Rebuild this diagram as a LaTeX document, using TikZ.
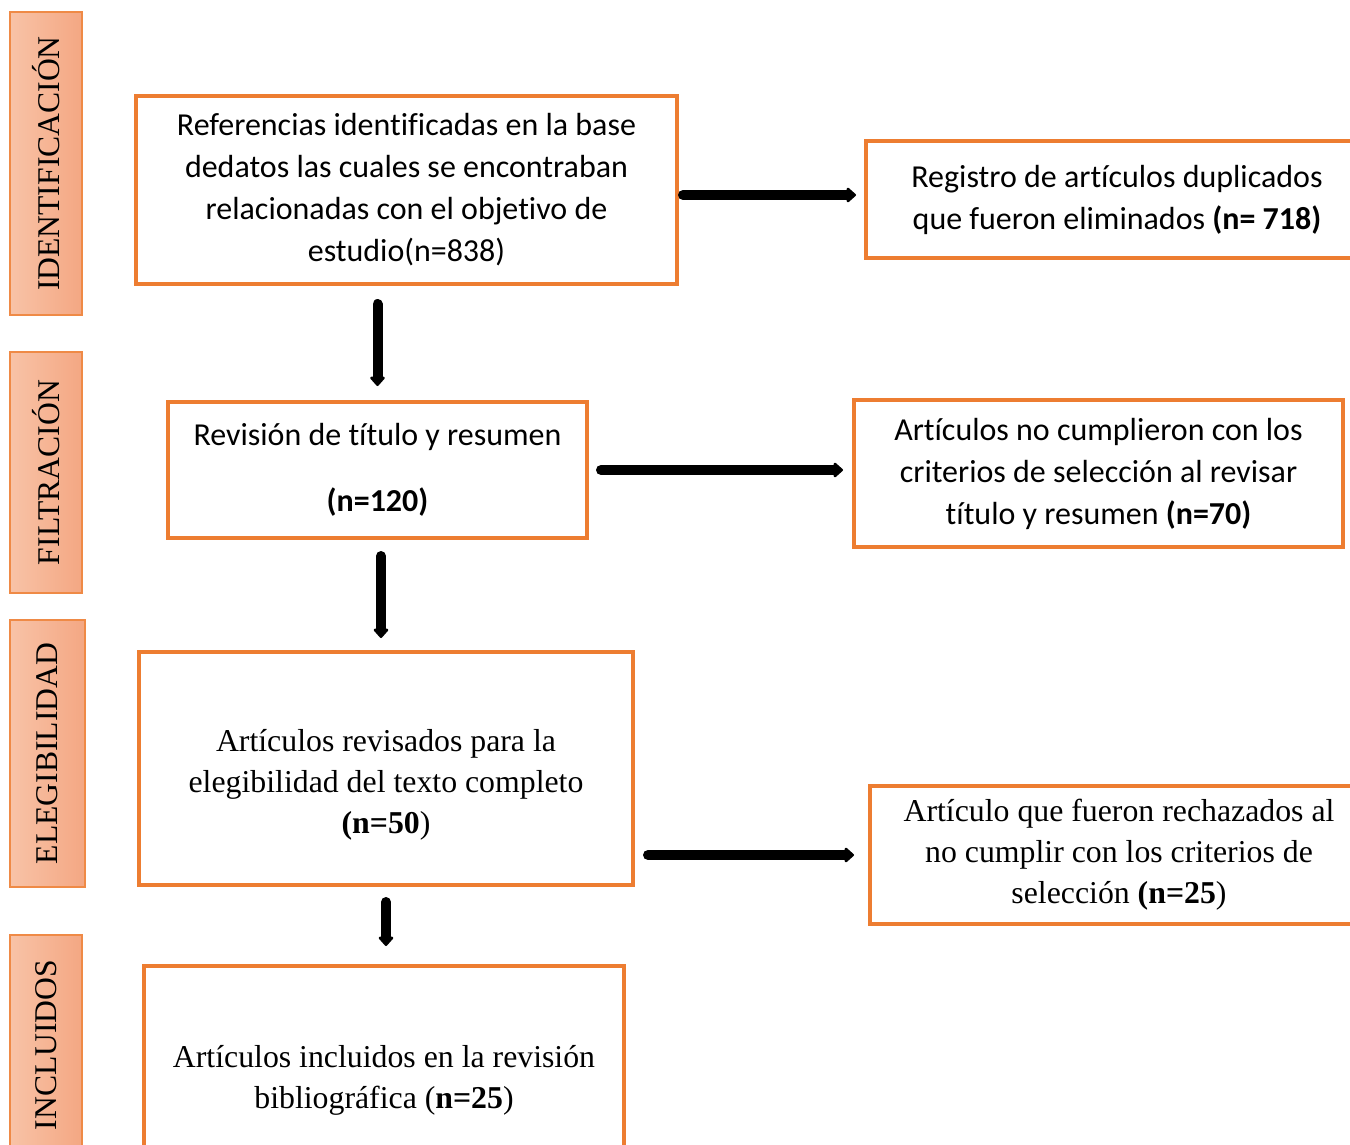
\documentclass[tikz,border=0pt]{standalone}
\usepackage{fontspec}
\setmainfont{Liberation Serif}
\newfontfamily\calibri[Ligatures=NoCommon]{Carlito}
\usetikzlibrary{arrows.meta,positioning}
\definecolor{boxorange}{HTML}{ED7D31}
\definecolor{tagleft}{HTML}{F8C3A7}
\definecolor{tagright}{HTML}{F4A783}
\newcommand{\px}{0.02cm}

\begin{document}
\begin{tikzpicture}[x=\px,y=-\px,
    stagebox/.style={draw=boxorange,line width=4*\px,inner sep=0pt,align=center},
    tag/.style={draw=boxorange!90,line width=1.5*\px,inner sep=0pt,
      left color=tagleft,right color=tagright,font=\fontsize{18}{20}\selectfont},
    sanstxt/.style={font=\calibri\fontsize{18.2}{23.9}\selectfont},
    seriftxt/.style={font=\fontsize{18.1}{23.3}\selectfont},
    flow/.style={line width=10*\px,line cap=round,-{Triangle[length=0.2cm,width=0.34cm,round]}}]
      \useasboundingbox (0,0) rectangle (1350,1144);
      \clip (0,0) rectangle (1350,1144);

      \node[tag,minimum height=303*\px,minimum width=72*\px] (ident) at (46,163.5) {\rotatebox{90}{IDENTIFICACIÓN}};
      \node[tag,minimum height=241*\px,minimum width=72*\px] (filtr) at (46,472.5) {\rotatebox{90}{FILTRACIÓN}};
      \node[tag,minimum height=267*\px,minimum width=75*\px] (elegi) at (47.5,753.5) {\rotatebox{90}{ELEGIBILIDAD}};
      \node[tag,minimum height=220*\px,minimum width=72*\px] (inclu) at (46,1045) {\rotatebox{90}{INCLUIDOS}};

      \node[stagebox,sanstxt,minimum width=541*\px,minimum height=188*\px] (b1) at (406.5,190)
        {Referencias identificadas en la base\\ dedatos las cuales se encontraban\\
         relacionadas con el objetivo de\\ estudio(n=838)};
      \node[stagebox,sanstxt,minimum width=502*\px,minimum height=117*\px] (r1) at (1117,199.5)
        {Registro de artículos duplicados\\ que fueron eliminados \textbf{(n= 718)}};
      \node[stagebox,sanstxt,minimum width=419*\px,minimum height=136*\px] (b2) at (377.5,470)
        {Revisión de título y resumen\\[0.48cm] \textbf{(n=120)}};
      \node[stagebox,sanstxt,minimum width=489*\px,minimum height=147*\px] (r2) at (1098.5,473.5)
        {Artículos no cumplieron con los\\ criterios de selección al revisar\\ título y resumen \textbf{(n=70)}};
      \node[stagebox,minimum width=494*\px,minimum height=233*\px] (b3) at (386,768.5) {};
      \node[seriftxt,align=center] (b3txt) at (386,785)
        {Artículos revisados para la\\ elegibilidad del texto completo\\ \textbf{(n=50})};
      \node[stagebox,seriftxt,minimum width=498*\px,minimum height=138*\px] (r3) at (1119,855)
        {Artículo que fueron rechazados al\\ no cumplir con los criterios de\\ selección \textbf{(n=25})};
      \node[stagebox,seriftxt,minimum width=480*\px,minimum height=228*\px] (b4) at (384,1080)
        {Artículos incluidos en la revisión\\ bibliográfica (\textbf{n=25})};

      \path[flow]
      ([yshift=-5*\px]b1.east) edge[shorten <=4*\px,shorten >=8*\px] ([yshift=-5*\px]b1.east -| r1.west)
      (b1.south -| b2.north) edge[shorten <=18*\px,shorten >=14*\px] (b2.north)
      (b2.east) edge[shorten <=12*\px,shorten >=9*\px] (b2.east -| r2.west)
      ([xshift=3.5*\px]b2.south) edge[shorten <=16*\px,shorten >=12*\px] ([xshift=3.5*\px]b2.south |- b3.north)
      (b3.east |- r3.west) edge[shorten <=13*\px,shorten >=14*\px] (r3.west)
      (b3.south) edge[shorten <=15*\px,shorten >=18*\px] (b3.south |- b4.north);
\end{tikzpicture}
\end{document}
